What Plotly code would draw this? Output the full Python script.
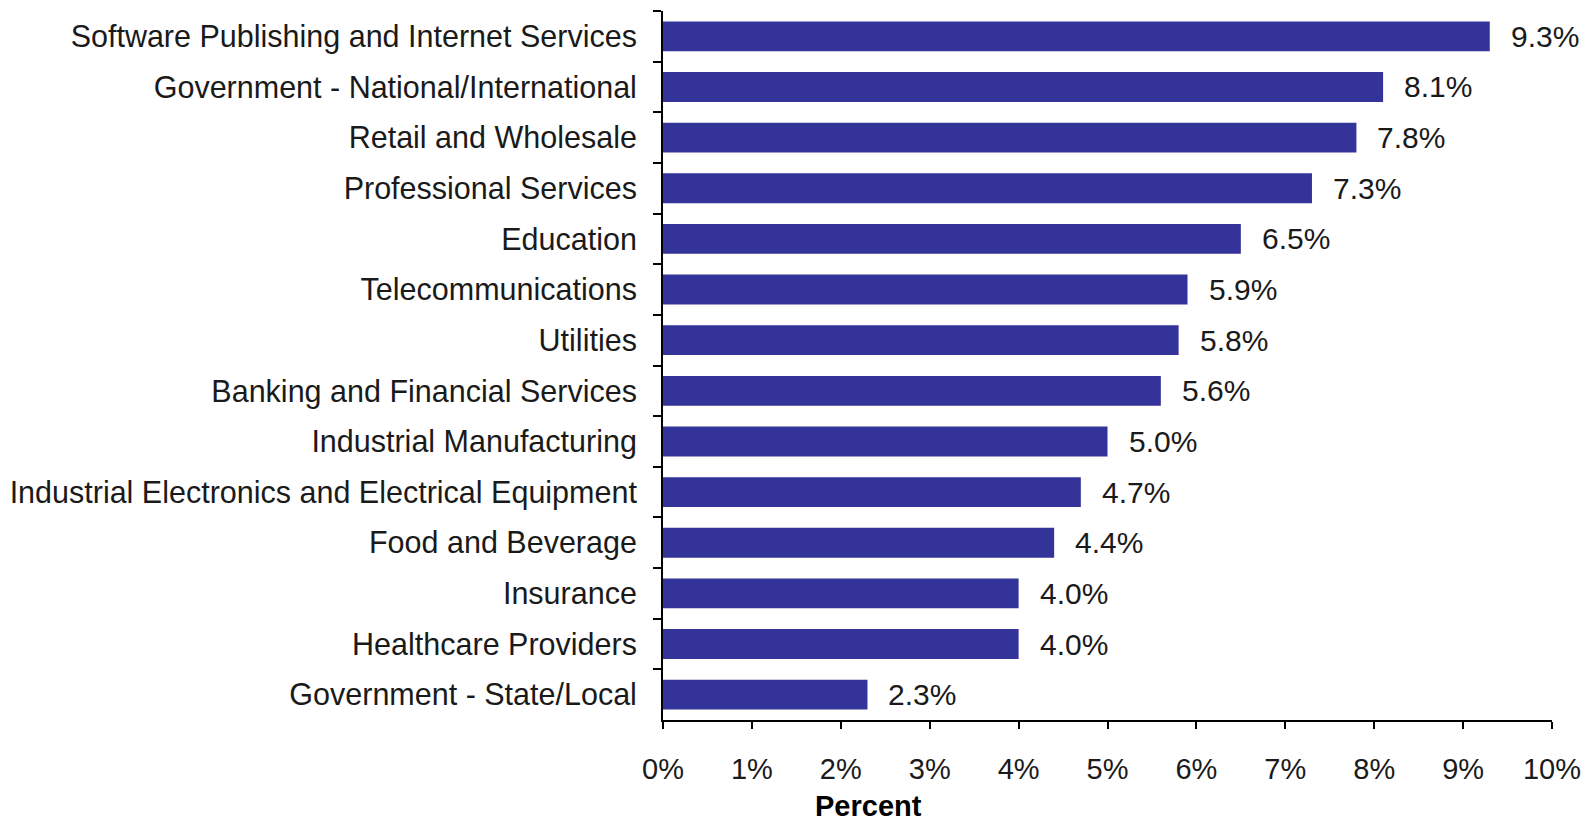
import plotly.graph_objects as go

industries = [
    "Software Publishing and Internet Services",
    "Government - National/International",
    "Retail and Wholesale",
    "Professional Services",
    "Education",
    "Telecommunications",
    "Utilities",
    "Banking and Financial Services",
    "Industrial Manufacturing",
    "Industrial Electronics and Electrical Equipment",
    "Food and Beverage",
    "Insurance",
    "Healthcare Providers",
    "Government - State/Local",
]
percent = [9.3, 8.1, 7.8, 7.3, 6.5, 5.9, 5.8, 5.6, 5.0, 4.7, 4.4, 4.0, 4.0, 2.3]
x_ticks = list(range(0, 11))
x_tick_labels = [f"{t}%" for t in x_ticks]

FONT = "Arial, 'Liberation Sans', sans-serif"
BAR_COLOR = "#333399"

fig = go.Figure(
    go.Bar(
        x=percent,
        y=industries,
        orientation="h",
        marker=dict(color=BAR_COLOR, line=dict(width=0)),
        hoverinfo="x+y",
    )
)

# value labels to the right of each bar
for name, val in zip(industries, percent):
    fig.add_annotation(
        x=val, y=name, xref="x", yref="y",
        text=f"{val:.1f}%", showarrow=False,
        xanchor="left", yanchor="middle", xshift=19,
        font=dict(family=FONT, size=30, color="#1a1a1a"),
    )

# axis caption, set left of the plot centre
fig.add_annotation(
    x=0.2317, y=-0.121, xref="paper", yref="paper",
    text="<b>Percent</b>", showarrow=False,
    xanchor="center", yanchor="middle",
    font=dict(family=FONT, size=29, color="#000000"),
)

fig.update_layout(
    width=1593, height=822,
    margin=dict(l=663, r=41, t=11, b=102, pad=0),
    paper_bgcolor="white", plot_bgcolor="white",
    bargap=0.41,
    showlegend=False,
    font=dict(family=FONT, color="#1a1a1a"),
)

fig.update_xaxes(
    range=[0, 10],
    tickvals=x_ticks, ticktext=x_tick_labels,
    ticks="outside", ticklen=7, tickwidth=2, tickcolor="black",
    showline=True, linecolor="black", linewidth=2,
    showgrid=False, zeroline=False,
    tickfont=dict(family=FONT, size=29, color="#1a1a1a"),
    ticklabelstandoff=15,
)

fig.update_yaxes(
    categoryorder="array", categoryarray=industries,
    autorange="reversed",
    ticks="outside", ticklen=8, tickwidth=2, tickcolor="black",
    tickson="boundaries",
    showline=True, linecolor="black", linewidth=2,
    showgrid=False, zeroline=False,
    tickfont=dict(family=FONT, size=30.5, color="#1a1a1a"),
    ticklabelstandoff=18,
)

fig.write_html("out.html")
